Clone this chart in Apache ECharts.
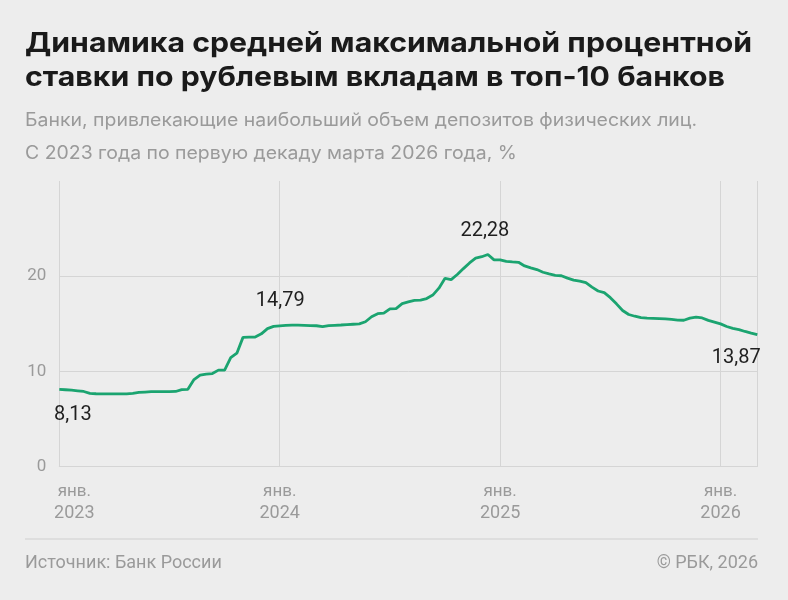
<!DOCTYPE html>
<html><head><meta charset="utf-8">
<script src="https://cdn.jsdelivr.net/npm/echarts@6/dist/echarts.min.js"></script>
<style>html,body{margin:0;padding:0;background:#ededed;}#c{width:788px;height:600px;}</style>
</head><body><div id="c"></div>
<script>
// Decades (10-day periods) from Jan 2023 (1st decade) to Mar 2026 (1st decade)
const years = [2023, 2024, 2025, 2026];
const monthNames = ['янв.', 'фев.', 'мар.', 'апр.', 'май', 'июн.', 'июл.', 'авг.', 'сен.', 'окт.', 'ноя.', 'дек.'];
const categories = [];
for (const y of years) {
  for (let m = 1; m <= 12; m++) {
    for (let d = 1; d <= 3; d++) {
      if (y === 2026 && (m > 3 || (m === 3 && d > 1))) continue;
      categories.push(y + '-' + String(m).padStart(2, '0') + '-' + d);
    }
  }
}
// Average maximum rate, %
const rates = [
  8.13, 8.08, 8.03, 7.97, 7.90, 7.70, 7.66, 7.65, 7.65, 7.65,
  7.65, 7.64, 7.70, 7.80, 7.84, 7.88, 7.89, 7.89, 7.89, 7.90,
  8.10, 8.13, 9.15, 9.62, 9.72, 9.78, 10.14, 10.14, 11.45, 11.92,
  13.58, 13.60, 13.62, 13.95, 14.50, 14.74, 14.79, 14.84, 14.87, 14.86,
  14.85, 14.82, 14.80, 14.70, 14.82, 14.85, 14.88, 14.92, 14.96, 15.00,
  15.22, 15.75, 16.07, 16.13, 16.58, 16.60, 17.12, 17.30, 17.47, 17.50,
  17.66, 18.02, 18.75, 19.78, 19.65, 20.18, 20.80, 21.40, 21.90, 22.05,
  22.28, 21.72, 21.72, 21.55, 21.50, 21.46, 21.08, 20.88, 20.70, 20.42,
  20.25, 20.10, 20.05, 19.80, 19.60, 19.48, 19.32, 18.85, 18.45, 18.28,
  17.75, 17.10, 16.40, 15.98, 15.80, 15.65, 15.60, 15.58, 15.55, 15.52,
  15.46, 15.40, 15.38, 15.60, 15.70, 15.62, 15.36, 15.18, 15.00, 14.72,
  14.52, 14.40, 14.20, 14.02, 13.87
];
// Annotated points: [category index, text]
const annotations = [
  [0, '8,13'], [36, '14,79'], [70, '22,28'], [114, '13,87']
];
const annotationOffsets = [[13.5, 26], [0.5, -25], [-3, -24], [-21, 23.5]];
const yTicks = [0, 10, 20];
const titleLines = ['Динамика средней максимальной процентной', 'ставки по рублевым вкладам в топ-10 банков'];
const subtitleLines = ['Банки, привлекающие наибольший объем депозитов физических лиц.', 'С 2023 года по первую декаду марта 2026 года, %'];
const sourceText = 'Источник: Банк России';
const copyrightText = '© РБК, 2026';

const chart = echarts.init(document.getElementById('c'), null, {renderer: 'canvas'});
const gridColor = '#d5d5d5';
const grayText = '#9a9a9a';
const isYearStart = (i) => /-01-1$/.test(categories[i]);

function txt(text, x, y, font, fill, sx, align) {
  return {type: 'text', x: x, y: y, scaleX: sx, scaleY: 1,
    style: {text: text, font: font, fill: fill, align: align || 'left', verticalAlign: 'top'}};
}

chart.setOption({
  backgroundColor: '#ededed',
  animation: false,
  grid: {left: 59.3, right: 30.7, top: 181, bottom: 133.3, containLabel: false},
  graphic: [
    txt(titleLines[0], 25, 30, '700 27px Inter', '#1a1a1a', 1.12),
    txt(titleLines[1], 25, 64, '700 27px Inter', '#1a1a1a', 1.12),
    txt(subtitleLines[0], 25, 112, '400 18px Inter', grayText, 1.08),
    txt(subtitleLines[1], 25, 145, '400 18px Inter', grayText, 1.08),
    {type: 'line', shape: {x1: 25, y1: 539, x2: 758, y2: 539}, style: {stroke: '#d8d8d8', lineWidth: 1.5}},
    txt(sourceText, 25, 554, '400 18px Roboto', grayText, 1),
    txt(copyrightText, 758, 554, '400 18px Roboto', grayText, 1, 'right')
  ],
  xAxis: {
    type: 'category',
    data: categories,
    boundaryGap: false,
    axisLine: {show: true, lineStyle: {color: gridColor, width: 1}},
    axisTick: {show: false},
    splitLine: {show: true, interval: (i) => isYearStart(i) || i === categories.length - 1, lineStyle: {color: gridColor, width: 1}},
    axisLabel: {
      interval: (i) => isYearStart(i),
      margin: 14,
      formatter: (v, i) => {
        const parts = v.split('-');
        const m = monthNames[parseInt(parts[1], 10) - 1];
        return i === 0 ? '{m0|' + m + '}\n{y0|' + parts[0] + '}' : '{m|' + m + '}\n{y|' + parts[0] + '}';
      },
      rich: {
        m: {fontFamily: 'Roboto', fontSize: 17, color: grayText, lineHeight: 22},
        y: {fontFamily: 'Roboto', fontSize: 18, color: grayText, lineHeight: 22},
        m0: {fontFamily: 'Roboto', fontSize: 17, color: grayText, lineHeight: 22, padding: [0, 0, 0, 30]},
        y0: {fontFamily: 'Roboto', fontSize: 18, color: grayText, lineHeight: 22, padding: [0, 0, 0, 30]}
      }
    }
  },
  yAxis: {
    type: 'value',
    min: 0, max: 30, interval: 10,
    axisLine: {show: false},
    axisTick: {show: false},
    splitLine: {show: true, showMaxLine: false, lineStyle: {color: gridColor, width: 1}},
    axisLabel: {
      showMaxLabel: false,
      margin: 13,
      color: grayText, fontFamily: 'Roboto', fontSize: 17,
      formatter: (v) => yTicks.includes(v) ? String(v) : ''
    }
  },
  series: [{
    type: 'line',
    data: rates,
    showSymbol: false,
    lineStyle: {color: '#1ba470', width: 2.8},
    itemStyle: {color: '#1ba470'},
    markPoint: {
      symbol: 'circle', symbolSize: 0,
      data: annotations.map((a, k) => ({
        coord: [a[0], rates[a[0]]],
        value: a[1],
        label: {show: true, position: 'inside', offset: annotationOffsets[k], formatter: a[1],
                color: '#1f1f1f', fontFamily: 'Roboto', fontSize: 20}
      }))
    }
  }]
});
</script></body></html>
